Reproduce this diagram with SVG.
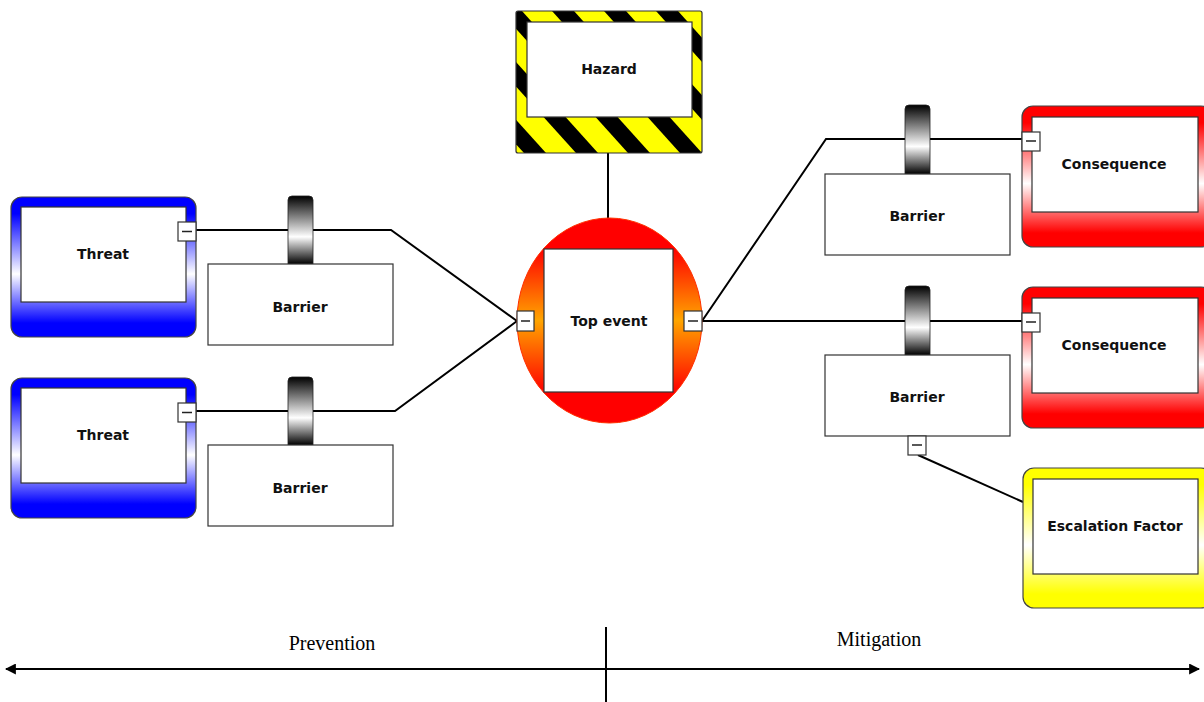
<svg xmlns="http://www.w3.org/2000/svg" width="1204" height="702" viewBox="0 0 1204 702">
<style>
.lbl{font-family:"DejaVu Sans",Verdana,sans-serif;font-weight:bold;font-size:14px;fill:#111;text-anchor:middle;dominant-baseline:central}
.inner{fill:#fff;stroke:#333;stroke-width:1.2}
.outer{stroke:#444;stroke-width:1.2}
.box{fill:#fff;stroke:#333;stroke-width:1.2}
.mbox{fill:#fff;stroke:#333;stroke-width:1.2}
.mline{stroke:#222;stroke-width:1.5}
.conn{fill:none;stroke:#000;stroke-width:2}
.tab{fill:url(#tabG);stroke:#222;stroke-width:0.8}
.stripe{fill:#ffff00}
.cap{font-family:"Liberation Serif","Times New Roman",serif;font-size:20px;fill:#000;text-anchor:middle}
</style>
<defs>
<linearGradient id="blueG" x1="0" y1="0" x2="0" y2="1">
<stop offset="0" stop-color="#0000ff"/><stop offset="0.12" stop-color="#0000ff"/><stop offset="0.55" stop-color="#ffffff"/><stop offset="0.9" stop-color="#0000ff"/><stop offset="1" stop-color="#0000ff"/>
</linearGradient>
<linearGradient id="redG" x1="0" y1="0" x2="0" y2="1">
<stop offset="0" stop-color="#ff0000"/><stop offset="0.12" stop-color="#ff0000"/><stop offset="0.55" stop-color="#ffffff"/><stop offset="0.9" stop-color="#ff0000"/><stop offset="1" stop-color="#ff0000"/>
</linearGradient>
<linearGradient id="yelG" x1="0" y1="0" x2="0" y2="1">
<stop offset="0" stop-color="#ffff00"/><stop offset="0.12" stop-color="#ffff00"/><stop offset="0.55" stop-color="#ffffff"/><stop offset="0.9" stop-color="#ffff00"/><stop offset="1" stop-color="#ffff00"/>
</linearGradient>
<linearGradient id="topG" x1="0" y1="0" x2="0" y2="1">
<stop offset="0" stop-color="#ff0000"/><stop offset="0.15" stop-color="#ff0000"/><stop offset="0.5" stop-color="#ffa500"/><stop offset="0.85" stop-color="#ff0000"/><stop offset="1" stop-color="#ff0000"/>
</linearGradient>
<linearGradient id="tabG" x1="0" y1="0" x2="0" y2="1">
<stop offset="0" stop-color="#000"/><stop offset="0.6" stop-color="#fff"/><stop offset="1" stop-color="#000"/>
</linearGradient>
<clipPath id="hzClip"><rect x="516" y="11" width="186" height="142" rx="2"/></clipPath>
<marker id="ah" viewBox="0 0 10 10" refX="9" refY="5" markerWidth="5" markerHeight="5" orient="auto-start-reverse">
<path d="M0,0 L10,5 L0,10 z" fill="#000"/>
</marker>
</defs>

<g id="connectors">
<polyline class="conn" points="196,230 391,230 517,321"/>
<polyline class="conn" points="196,411 395,411 517,321"/>
<line class="conn" x1="608" y1="153" x2="608" y2="220"/>
<polyline class="conn" points="702,321 826,139 1022,139"/>
<line class="conn" x1="702" y1="321" x2="1022" y2="321"/>
<line class="conn" x1="918" y1="455" x2="1023" y2="502"/>
</g>

<g id="hazard">
<g clip-path="url(#hzClip)">
<rect x="516" y="11" width="186" height="142" fill="#000"/>
<polygon class="stripe" points="314,11 344,11 472,153 442,153"/>
<polygon class="stripe" points="366,11 396,11 524,153 494,153"/>
<polygon class="stripe" points="418,11 448,11 576,153 546,153"/>
<polygon class="stripe" points="470,11 500,11 628,153 598,153"/>
<polygon class="stripe" points="522,11 552,11 680,153 650,153"/>
<polygon class="stripe" points="574,11 604,11 732,153 702,153"/>
<polygon class="stripe" points="626,11 656,11 784,153 754,153"/>
<polygon class="stripe" points="678,11 708,11 836,153 806,153"/>
</g>
<rect x="516" y="11" width="186" height="142" rx="2" fill="none" stroke="#333" stroke-width="1.2"/>
<rect class="inner" x="527" y="22" width="165" height="95"/>
<text class="lbl" x="609" y="69">Hazard</text>
</g>

<g id="threat1">
<rect class="outer" x="11" y="197" width="185" height="140" rx="11" fill="url(#blueG)"/>
<rect class="inner" x="21" y="207" width="165" height="95"/>
<text class="lbl" x="103" y="254">Threat</text>
<rect class="mbox" x="178" y="222" width="18" height="19"/>
<line class="mline" x1="182" y1="231.5" x2="192" y2="231.5"/>
</g>

<g id="threat2">
<rect class="outer" x="11" y="378" width="185" height="140" rx="11" fill="url(#blueG)"/>
<rect class="inner" x="21" y="388" width="165" height="95"/>
<text class="lbl" x="103" y="435">Threat</text>
<rect class="mbox" x="178" y="403" width="18" height="19"/>
<line class="mline" x1="182" y1="412.5" x2="192" y2="412.5"/>
</g>

<g id="barrier1">
<path class="tab" d="M288,264 V200 Q288,196 292,196 H309 Q313,196 313,200 V264 Z"/>
<rect class="box" x="208" y="264" width="185" height="81"/>
<text class="lbl" x="300" y="307">Barrier</text>
</g>

<g id="barrier2">
<path class="tab" d="M288,445 V381 Q288,377 292,377 H309 Q313,377 313,381 V445 Z"/>
<rect class="box" x="208" y="445" width="185" height="81"/>
<text class="lbl" x="300" y="488">Barrier</text>
</g>

<g id="topevent">
<ellipse cx="609.5" cy="320.5" rx="92.5" ry="102.5" fill="url(#topG)" stroke="#ff3000" stroke-width="1"/>
<rect class="inner" x="544" y="249" width="129" height="143"/>
<text class="lbl" x="609" y="321">Top event</text>
<rect class="mbox" x="517" y="311" width="17" height="20"/>
<line class="mline" x1="521" y1="321" x2="530" y2="321"/>
<rect class="mbox" x="684" y="311" width="18" height="20"/>
<line class="mline" x1="688" y1="321" x2="698" y2="321"/>
</g>

<g id="barrier3">
<path class="tab" d="M905,174 V109 Q905,105 909,105 H926 Q930,105 930,109 V174 Z"/>
<rect class="box" x="825" y="174" width="185" height="81"/>
<text class="lbl" x="917" y="216">Barrier</text>
</g>

<g id="barrier4">
<path class="tab" d="M905,355 V290 Q905,286 909,286 H926 Q930,286 930,290 V355 Z"/>
<rect class="box" x="825" y="355" width="185" height="81"/>
<text class="lbl" x="917" y="397">Barrier</text>
<rect class="mbox" x="908" y="436" width="18" height="19"/>
<line class="mline" x1="912" y1="445" x2="922" y2="445"/>
</g>

<g id="consequence1">
<rect class="outer" x="1022" y="106" width="190" height="141" rx="11" fill="url(#redG)"/>
<rect class="inner" x="1032" y="117" width="166" height="95"/>
<text class="lbl" x="1114" y="164">Consequence</text>
<rect class="mbox" x="1022" y="132" width="18" height="19"/>
<line class="mline" x1="1026" y1="141" x2="1036" y2="141"/>
</g>

<g id="consequence2">
<rect class="outer" x="1022" y="287" width="190" height="141" rx="11" fill="url(#redG)"/>
<rect class="inner" x="1032" y="298" width="166" height="95"/>
<text class="lbl" x="1114" y="345">Consequence</text>
<rect class="mbox" x="1022" y="313" width="18" height="19"/>
<line class="mline" x1="1026" y1="322" x2="1036" y2="322"/>
</g>

<g id="escalation">
<rect class="outer" x="1023" y="468" width="189" height="140" rx="11" fill="url(#yelG)"/>
<rect class="inner" x="1033" y="479" width="165" height="95"/>
<text class="lbl" x="1115" y="526">Escalation Factor</text>
</g>

<g id="axis">
<line x1="6" y1="669" x2="1199" y2="669" stroke="#000" stroke-width="2.2" marker-start="url(#ah)" marker-end="url(#ah)"/>
<line x1="606" y1="627" x2="606" y2="702" stroke="#000" stroke-width="2"/>
<text class="cap" x="332" y="650">Prevention</text>
<text class="cap" x="879" y="646">Mitigation</text>
</g>
</svg>
